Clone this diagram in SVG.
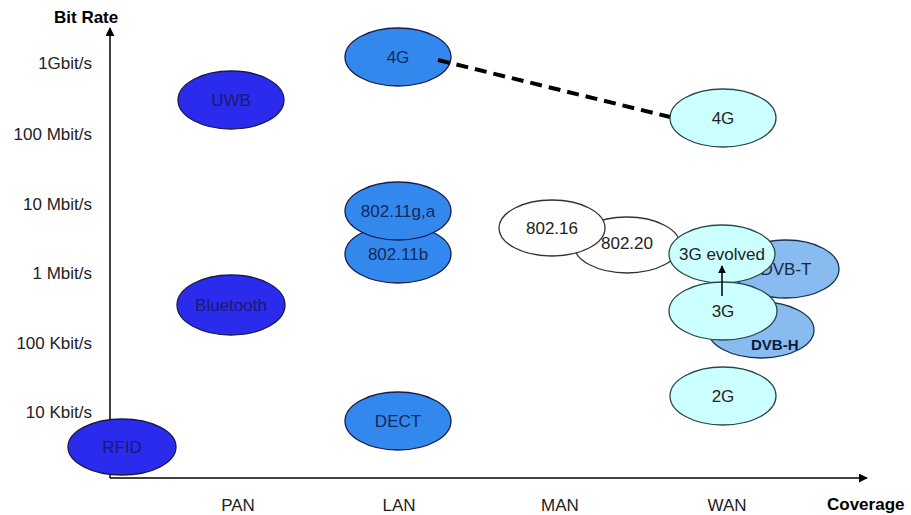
<svg xmlns="http://www.w3.org/2000/svg" width="911" height="515" viewBox="0 0 911 515">
<defs>
<style>
text{font-family:"Liberation Sans",Arial,sans-serif;}
.ax{font-size:17px;fill:#222;text-anchor:middle;}
.axl{font-size:17px;fill:#222;text-anchor:end;}
.axb{font-size:17px;font-weight:bold;fill:#000;}
.n ellipse{stroke:#1a1a4a;stroke-width:1.3;}
.n text{font-size:17px;text-anchor:middle;}
.dark ellipse{fill:#2b2bee;}
.dark text{fill:#1a1a70;}
.mid ellipse{fill:#3388ee;}
.mid text{fill:#14285a;}
.light ellipse{fill:#ccffff;stroke:#2a4a4a;}
.light text{fill:#222;}
.white ellipse{fill:#ffffff;stroke:#333;}
.white text{fill:#222;}
.dvb ellipse{fill:#88bbf0;stroke:#1a3050;}
.dvb text{fill:#1a2a40;}
.axis{stroke:#000;stroke-width:1.5;fill:none;}
</style>
<marker id="ah" viewBox="0 0 10 10" refX="9" refY="5" markerWidth="8" markerHeight="8" markerUnits="userSpaceOnUse" orient="auto">
<path d="M0,0 L10,5 L0,10 z" fill="#000"/>
</marker>
<marker id="ah2" viewBox="0 0 10 10" refX="9" refY="5" markerWidth="9" markerHeight="9" markerUnits="userSpaceOnUse" orient="auto">
<path d="M0,0 L10,5 L0,10 z" fill="#000"/>
</marker>
</defs>
<rect width="911" height="515" fill="#fff"/>
<g id="axes">
<line class="axis" x1="110" y1="478" x2="110" y2="28" marker-end="url(#ah2)"/>
<line class="axis" x1="110" y1="478" x2="867" y2="478" marker-end="url(#ah2)"/>
<text class="axb" x="54" y="23">Bit Rate</text>
<text class="axb" x="827" y="510">Coverage</text>
<text class="axl" x="92" y="69">1Gbit/s</text>
<text class="axl" x="92" y="140">100 Mbit/s</text>
<text class="axl" x="92" y="210">10 Mbit/s</text>
<text class="axl" x="92" y="279">1 Mbit/s</text>
<text class="axl" x="92" y="349">100 Kbit/s</text>
<text class="axl" x="92" y="418">10 Kbit/s</text>
<text class="ax" x="238" y="511">PAN</text>
<text class="ax" x="399" y="511">LAN</text>
<text class="ax" x="560" y="511">MAN</text>
<text class="ax" x="727" y="511">WAN</text>
</g>
<g id="uwb" class="n dark"><ellipse cx="231" cy="100" rx="53" ry="29"/><text x="231" y="106">UWB</text></g>
<g id="bluetooth" class="n dark"><ellipse cx="231" cy="305" rx="54" ry="30"/><text x="231" y="311">Bluetooth</text></g>
<g id="rfid" class="n dark"><ellipse cx="122" cy="447" rx="54" ry="28"/><text x="122" y="453">RFID</text></g>
<g id="lan-4g" class="n mid"><ellipse cx="398" cy="57" rx="53" ry="29"/><text x="398" y="63">4G</text></g>
<g id="wifi-b" class="n mid"><ellipse cx="398" cy="254" rx="53" ry="29"/><text x="398" y="260">802.11b</text></g>
<g id="wifi-ga" class="n mid"><ellipse cx="398" cy="211" rx="53" ry="29"/><text x="398" y="217">802.11g,a</text></g>
<g id="dect" class="n mid"><ellipse cx="398" cy="421" rx="53" ry="29"/><text x="398" y="427">DECT</text></g>
<g id="n80220" class="n white"><ellipse cx="627" cy="245" rx="53" ry="28"/><text x="627" y="249">802.20</text></g>
<g id="n80216" class="n white"><ellipse cx="552" cy="228" rx="53" ry="28"/><text x="552" y="234">802.16</text></g>
<g id="wan-4g" class="n light"><ellipse cx="723" cy="118" rx="53" ry="29"/><text x="723" y="124">4G</text></g>
<g id="dvbt" class="n dvb"><ellipse cx="786" cy="269" rx="53" ry="29"/><text x="786" y="275">DVB-T</text></g>
<g id="g3evolved" class="n light"><ellipse cx="722" cy="254" rx="53" ry="29"/><text x="722" y="260">3G evolved</text></g>
<g id="dvbh" class="n dvb"><ellipse cx="761" cy="330" rx="53" ry="28"/><text x="751" y="350" style="font-size:15px;font-weight:bold;fill:#0a1a3a;text-anchor:start">DVB-H</text></g>
<g id="g3" class="n light"><ellipse cx="723" cy="311" rx="54" ry="29"/><text x="723" y="317">3G</text></g>
<g id="g2" class="n light"><ellipse cx="723" cy="396" rx="53" ry="29"/><text x="723" y="402">2G</text></g>
<g id="connectors">
<line x1="438" y1="60" x2="670" y2="117" stroke="#000" stroke-width="4" stroke-dasharray="12,7"/>
<line x1="722" y1="296" x2="722" y2="266" stroke="#000" stroke-width="1.5" marker-end="url(#ah)"/>
</g>
</svg>
